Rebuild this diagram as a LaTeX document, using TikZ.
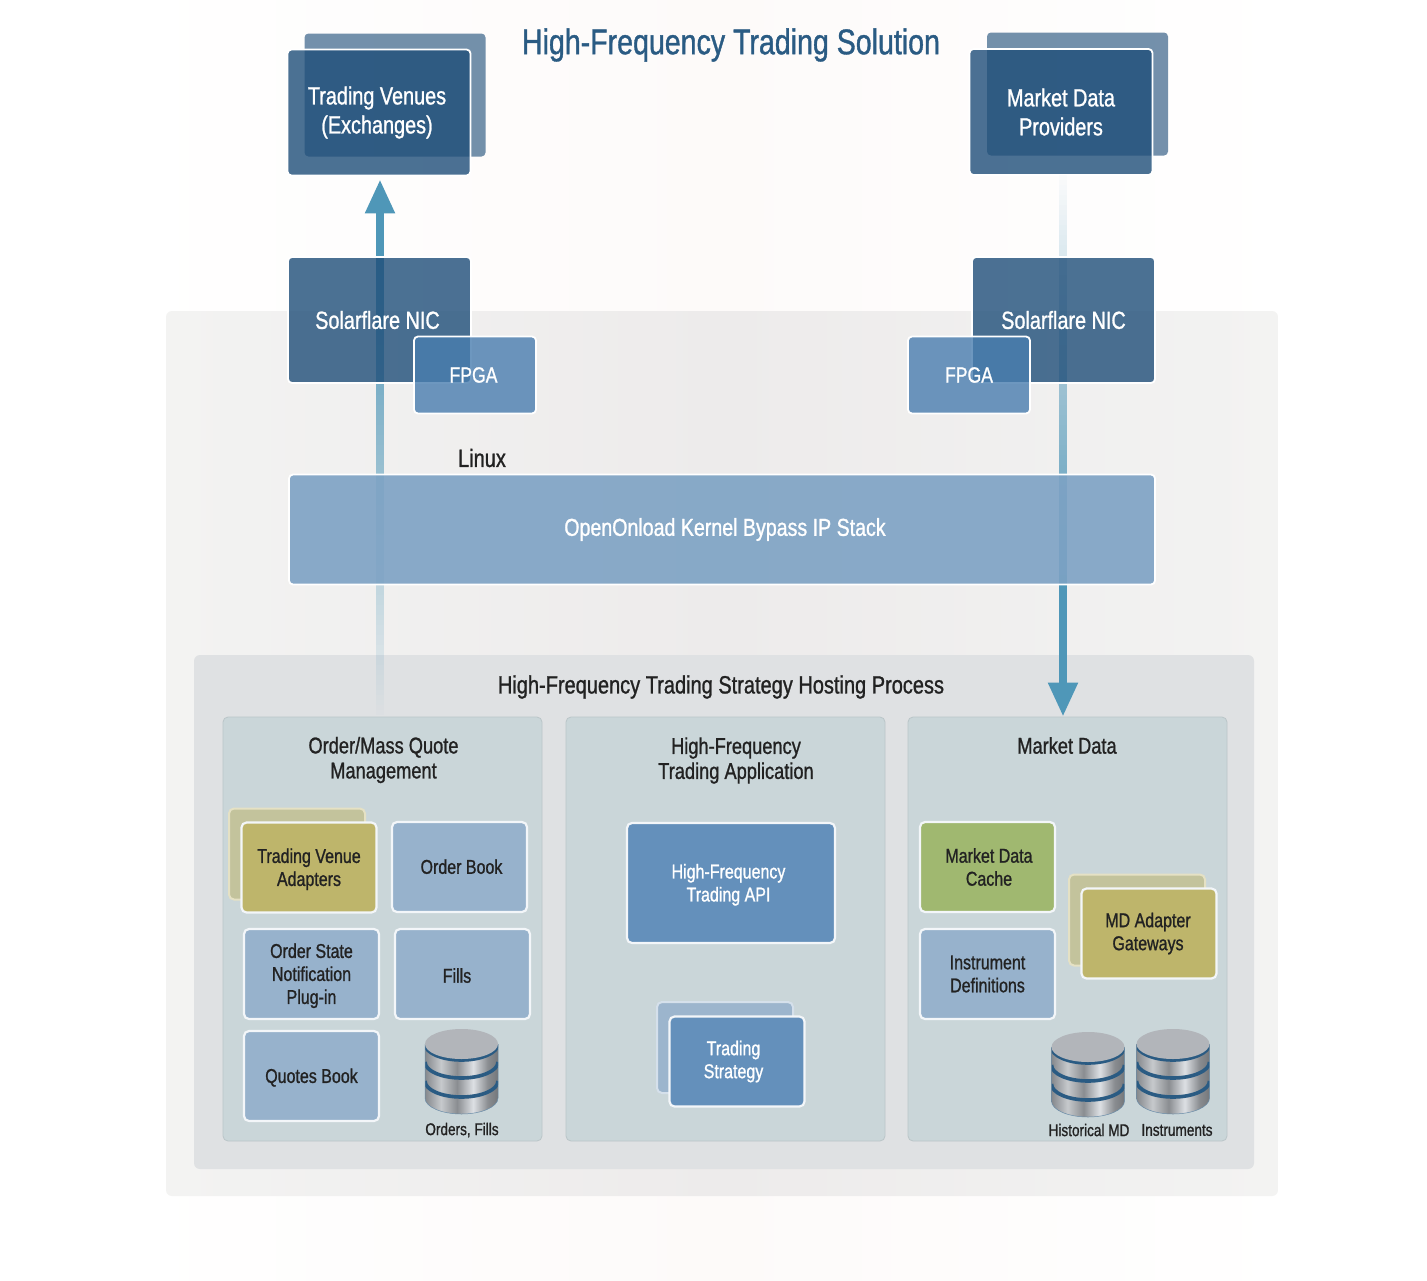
\documentclass[tikz,border=0pt]{standalone}
\usepackage{fontspec}
\setmainfont{Liberation Sans}[FakeStretch=0.8, FakeBold=1]
\usetikzlibrary{arrows.meta, positioning, calc}
\definecolor{titleblue}{HTML}{2A5B83}
\definecolor{darkblue}{HTML}{1F4E79}
\definecolor{midblue}{HTML}{497DAF}
\definecolor{paleblue}{HTML}{97B2CC}
\definecolor{stackblue}{HTML}{7DA2C4}
\definecolor{arrowblue}{HTML}{4F97B8}
\definecolor{olivebox}{HTML}{BEB56B}
\definecolor{greenbox}{HTML}{A0B870}
\definecolor{inktext}{HTML}{222222}
\definecolor{panelfill}{HTML}{CAD6D9}
\definecolor{hostfill}{HTML}{DFE1E3}
\definecolor{linuxmid}{HTML}{EDEBEB}
\definecolor{linuxside}{HTML}{F3F3F2}
\definecolor{pagetint}{HTML}{FDFAF9}
\definecolor{dbtop}{HTML}{B2B5BA}
\definecolor{metalA}{HTML}{85888C}
\definecolor{metalB}{HTML}{C6C9CC}
\definecolor{metalC}{HTML}{8A8D91}
\definecolor{metalD}{HTML}{DDE0E4}
\definecolor{metalE}{HTML}{74777B}
\pgfdeclarehorizontalshading{dbmetal}{100bp}{color(0bp)=(metalA); color(25bp)=(metalA); color(36bp)=(metalB); color(47bp)=(metalC); color(58bp)=(metalD); color(68bp)=(metalC); color(75bp)=(metalE); color(100bp)=(metalE)}
\newcommand{\boxtop}{\rule{0pt}{0.9em}}

\begin{document}
\begin{tikzpicture}[
    x=1pt, y=-1pt,
    backpanel/.style={rounded corners=6pt, inner sep=0pt},
    grouppanel/.style={draw=panelfill!92!black, fill=panelfill, rounded corners=5pt, inner sep=0pt, minimum width=319pt, minimum height=424pt, line width=0.8pt},
    venuebox/.style={draw=white, fill=darkblue, fill opacity=0.8, text opacity=1, rounded corners=4pt, text=white, align=center, minimum width=183pt, minimum height=126pt, line width=1.8pt, inner sep=0pt, font=\fontsize{24.8}{29}\selectfont},
    venueback/.style={fill=darkblue, fill opacity=0.62, rounded corners=4pt, minimum width=181pt, minimum height=123pt, inner sep=0pt},
    fpgabox/.style={draw=white, fill=midblue, fill opacity=0.8, text opacity=1, rounded corners=4pt, text=white, minimum width=122pt, minimum height=77pt, line width=1.8pt, inner sep=0pt, font=\fontsize{22}{26}\selectfont},
    smallbox/.style={draw=white!88!paleblue, fill=paleblue, rounded corners=5pt, text=inktext, align=center, minimum width=135pt, minimum height=90pt, line width=2.2pt, inner sep=0pt, font=\fontsize{20}{23}\selectfont, execute at begin node={\rule{0pt}{0.88em}}},
    apibox/.style={smallbox, fill=midblue!85!white, text=white},
    oliveback/.style={draw=white!60!olivebox, fill=olivebox, fill opacity=0.55, rounded corners=5pt, minimum width=136pt, minimum height=91pt, line width=2pt, inner sep=0pt},
    blueback/.style={oliveback, draw=white!60!paleblue, fill=paleblue, fill opacity=0.9},
    grouptitle/.style={text=inktext, align=center, inner sep=0pt, font=\fontsize{22.8}{25}\selectfont},
    dblabel/.style={text=inktext, inner sep=0pt, font=\fontsize{17}{18}\selectfont},
    conn/.style={-{Triangle[length=34pt, width=28pt]}, line width=8pt, arrowblue},
    fadeseg/.style={line width=8pt, arrowblue},
    dbstack/.pic={
        \shade[shading=dbmetal] (-36.5,0) -- (-36.5,54) arc[x radius=36.5, y radius=16, start angle=180, end angle=0] -- (36.5,0) -- cycle;
        \begin{scope}
            \clip (-36.5,0) -- (-36.5,54) arc[x radius=36.5, y radius=16, start angle=180, end angle=0] -- (36.5,0) -- cycle;
            \foreach \bandy in {0,18,37} {
                \draw[line width=3.6pt, titleblue] (-36.5,\bandy) arc[x radius=36.5, y radius=16, start angle=180, end angle=0];
            }
        \end{scope}
        \draw[line width=0.5pt, titleblue!70] (-36.5,0) -- (-36.5,54) arc[x radius=36.5, y radius=16, start angle=180, end angle=0] -- (36.5,0);
        \fill[dbtop] (0,0) ellipse[x radius=36.5, y radius=15];
    }
]
    \useasboundingbox (0,0) rectangle (1427,1280);
    \shade[left color=white, right color=white, middle color=pagetint] (130,0) rectangle (1300,1280);

    \node[backpanel, minimum width=1112pt, minimum height=885pt, left color=linuxside, right color=linuxside, middle color=linuxmid] (linuxpanel) at (722,753.5) {};
    \node[backpanel, minimum width=1060pt, minimum height=514pt, fill=hostfill] (hostpanel) at (724,912) {};

    \coordinate (upstart) at (380,260);
    \coordinate (downstart) at (1063,590);

    \node[venueback] (venueshadow) at (395,95) {};
    \node[venuebox] (venues) at (379,112.5) {\hspace*{-4pt}Trading Venues\\\hspace*{-4pt}(Exchanges)};
    \node[venueback] (mdshadow) at (1077.5,94) {};
    \node[venuebox] (mdsource) at (1061,112) {Market Data\\Providers};

    \foreach \segy in {260,265,...,710} {
        \pgfmathsetmacro{\segalpha}{(720-\segy-2.5)/460}
        \draw[fadeseg, opacity=\segalpha] (380,\segy) -- (380,\segy+5);
    }
    \draw[conn, shorten >=3pt] (upstart) -- (upstart |- venues.south);

    \node[grouppanel] (orderpanel) at (382.5,929) {};
    \node[grouppanel] (apppanel) at (725.5,929) {};
    \node[grouppanel] (mdpanel) at (1067.5,929) {};

    \foreach \segy in {175,180,...,585} {
        \pgfmathsetmacro{\segalpha}{(\segy+2.5-170)/420}
        \draw[fadeseg, opacity=\segalpha] (1063,\segy) -- (1063,\segy+5);
    }
    \draw[conn] (downstart) -- (downstart |- mdpanel.north);

    \node[venuebox] (nicleft) at (379.5,320) {\hspace*{-4pt}Solarflare NIC};
    \node[venuebox] (nicright) at (1063.5,320) {Solarflare NIC};
    \node[fpgabox] (fpgaleft) at (475,375) {\hspace*{-3pt}FPGA};
    \node[fpgabox] (fpgaright) at (969,375) {FPGA};

    \node[draw=white, fill=stackblue, fill opacity=0.9, text opacity=1, rounded corners=4pt, text=white, minimum width=866pt, minimum height=110pt, line width=1.8pt, inner sep=0pt, font=\fontsize{24.5}{29}\selectfont] (stack) at (722,529.5) {\hspace*{6pt}OpenOnload Kernel Bypass IP Stack};

    \node[text=titleblue, inner sep=0pt, font=\fontsize{35.7}{38}\selectfont] (solutiontitle) at (731,45) {High-Frequency Trading Solution};
    \node[grouptitle, font=\fontsize{25}{29}\selectfont] (linuxlabel) at (482,458) {Linux};
    \node[grouptitle, font=\fontsize{25}{29}\selectfont] (hosttitle) at (721,687) {High-Frequency Trading Strategy Hosting Process};
    \node[grouptitle] (ordertitle) at (383.5,760) {Order/Mass Quote\\Management};
    \node[grouptitle] (apptitle) at (736,760.5) {High-Frequency\\Trading Application};
    \node[grouptitle] (mdtitle) at (1067,745.5) {Market Data};

    \node[oliveback] (adapterback) at (297,854) {};
    \node[smallbox, fill=olivebox] (adapters) at (309,867.5) {\boxtop Trading Venue\\Adapters};
    \node[smallbox] (orderbook) at (459.5,867) {\raisebox{2pt}{\hspace*{4pt}Order Book}};
    \node[smallbox] (orderstate) at (311.5,974) {\boxtop Order State\\Notification\\Plug-in};
    \node[smallbox] (fills) at (462.5,974) {\hspace*{-11pt}Fills};
    \node[smallbox] (quotes) at (311.5,1076) {Quotes Book};

    \node[apibox, minimum width=208pt, minimum height=120pt] (hftapi) at (731,883) {\boxtop\hspace*{-5pt}High-Frequency\\\hspace*{-5pt}Trading API};
    \node[blueback] (strategyback) at (725,1047.5) {};
    \node[apibox] (strategy) at (737,1061.5) {\hspace*{-7pt}Trading\\\hspace*{-7pt}Strategy};

    \node[smallbox, fill=greenbox] (mdcache) at (987.5,867) {\hspace*{3pt}Market Data\\\hspace*{3pt}Cache};
    \node[smallbox] (instdefs) at (987.5,974) {Instrument\\Definitions};
    \node[oliveback] (gatewayback) at (1137,920) {};
    \node[smallbox, fill=olivebox] (gateways) at (1149,933.5) {\hspace*{-2pt}MD Adapter\\\hspace*{-2pt}Gateways};

    \pic at (461.5,1044) {dbstack};
    \pic at (1088,1047) {dbstack};
    \pic at (1173,1044) {dbstack};
    \node[dblabel] (ordersdb) at (462,1130) {Orders, Fills};
    \node[dblabel] (historydb) at (1089,1130) {Historical MD};
    \node[dblabel] (instrumentsdb) at (1177,1130) {Instruments};
\end{tikzpicture}
\end{document}
